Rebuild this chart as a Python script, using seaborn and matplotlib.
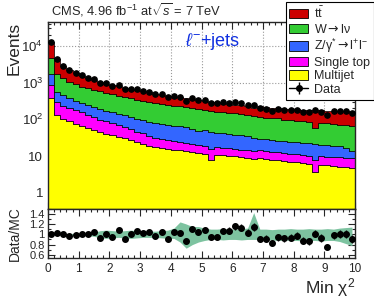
import numpy as np
import pandas as pd
import matplotlib
matplotlib.use("Agg")
import matplotlib.pyplot as plt
import seaborn as sns
from matplotlib.patches import Patch
from matplotlib.lines import Line2D
from matplotlib.ticker import MultipleLocator, LogLocator, FuncFormatter, NullFormatter, FixedLocator

# binning of the Min chi2 distribution (50 bins of 0.2)
edges = np.linspace(0, 10, 51)
centers = 0.5 * (edges[:-1] + edges[1:])

# expected events per bin
ttbar = [8300, 2656, 1582, 1185, 976, 782, 626, 537, 484, 426,
         383, 342, 322, 299, 282, 263, 256, 234, 220, 206,
         188, 170, 164, 150, 143, 138, 134, 131, 123, 116,
         109, 110, 106, 90, 109, 102, 97, 95, 98, 97,
         100, 98, 97, 120, 95, 95, 94, 94, 95, 97]
wjets = [3106, 1125, 856, 682, 587, 498, 457, 415, 384, 349,
         318, 303, 280, 255, 235, 224, 204, 191, 180, 167,
         164, 161, 151, 148, 144, 129, 122, 115, 112, 109,
         106, 104, 98, 89, 87, 84, 82, 80, 74, 72,
         67, 65, 63, 37.6, 60, 58, 56, 54, 54, 52]
zjets = [828, 265, 230, 178, 137, 126, 115, 101, 93, 84,
         79, 74, 66, 63, 56, 52, 50, 49, 46, 45,
         42, 40, 37.5, 35, 28, 32.5, 31, 26, 26, 24,
         23, 21.7, 20, 17.3, 15, 15, 14.6, 12.9, 12.9, 12.8,
         12.1, 12, 12, 12.9, 10.4, 10, 9.4, 9.1, 7.7, 5.2]
stop = [490, 172, 129, 117, 105, 88, 74, 65, 54, 49,
        42, 36, 31, 25.6, 22.6, 19.9, 16.4, 13.9, 13.1, 11.9,
        11.1, 10.0, 9.0, 8.5, 8.0, 7.8, 7.8, 7.0, 6.2, 6.0,
        5.9, 5.3, 5.3, 5.5, 5.6, 5.3, 5.1, 5.3, 4.8, 4.5,
        4.7, 4.2, 4.0, 4.1, 4.1, 3.9, 4.1, 4.0, 3.8, 3.9]
qcd = [376, 132, 103, 88, 75, 66, 58, 51, 45, 41,
       38, 34, 31, 27.5, 24, 21.4, 18.9, 17.2, 16.1, 15.6,
       14.7, 14.2, 13.8, 12.9, 12.1, 11.1, 7.8, 10.7, 10.4, 10.1,
       9.8, 9.5, 8.9, 8.3, 8.6, 8.1, 7.8, 7.6, 7.4, 6.9,
       6.7, 6.5, 6.1, 3.7, 5.7, 5.6, 5.4, 5.2, 5.1, 4.7]

# observed events per bin
data = [13100, 4437, 2900, 2183, 1852, 1583, 1343, 1229, 986, 950,
        808, 861, 657, 670, 663, 592, 567, 485, 499, 401,
        441, 403, 323, 394, 348, 347, 285, 276, 296, 284,
        292, 283, 246, 240, 205, 196, 171, 190, 182, 181,
        185, 162, 157, 181, 162, 130, 165, 167, 167, 147]

# relative MC uncertainty band (up / down) in the ratio panel
band_up = [0.01, 0.01, 0.015, 0.015, 0.02, 0.02, 0.03, 0.04, 0.07, 0.08,
           0.07, 0.06, 0.07, 0.08, 0.07, 0.06, 0.06, 0.06, 0.07, 0.08,
           0.12, 0.24, 0.2, 0.15, 0.15, 0.12, 0.1, 0.1, 0.11, 0.1,
           0.1, 0.11, 0.12, 0.42, 0.1, 0.1, 0.09, 0.1, 0.1, 0.11,
           0.1, 0.1, 0.11, 0.1, 0.1, 0.11, 0.1, 0.12, 0.13, 0.14]
band_dn = [0.01, 0.01, 0.015, 0.015, 0.02, 0.02, 0.03, 0.04, 0.07, 0.08,
           0.07, 0.06, 0.07, 0.08, 0.07, 0.06, 0.06, 0.06, 0.07, 0.08,
           0.08, 0.15, 0.27, 0.2, 0.15, 0.12, 0.1, 0.1, 0.11, 0.1,
           0.1, 0.11, 0.1, 0.1, 0.1, 0.1, 0.11, 0.12, 0.11, 0.12,
           0.12, 0.13, 0.12, 0.12, 0.13, 0.12, 0.12, 0.14, 0.18, 0.22]

names = ["ttbar", "W", "Z", "Single top", "Multijet"]
labels = [r"t$\bar{\rm t}$", r"W$\mathsf{\rightarrow}$lν",
          r"Z/γ$^{*}\mathsf{\rightarrow}$l$^{+}$l$^{-}$", "Single top", "Multijet"]
colors = ["#cc0000", "#33cc33", "#3366ff", "#ff00ff", "#ffff00"]
band_color = "#7dc3a0"

sns.set_style("ticks")
plt.rcParams["font.family"] = ["Liberation Sans", "DejaVu Sans"]
plt.rcParams["mathtext.fontset"] = "custom"
plt.rcParams["mathtext.rm"] = "Liberation Sans"
plt.rcParams["mathtext.it"] = "Liberation Sans:italic"
plt.rcParams["mathtext.bf"] = "Liberation Sans:bold"
plt.rcParams["mathtext.sf"] = "DejaVu Sans"

# long table for the stacked histogram
stack = pd.DataFrame({
    "minchi2": np.tile(centers, len(names)),
    "events": np.concatenate([ttbar, wjets, zjets, stop, qcd]),
    "process": np.repeat(names, len(centers)),
})

mc = np.array(ttbar) + np.array(wjets) + np.array(zjets) + np.array(stop) + np.array(qcd)
data = np.array(data, dtype=float)
ratio = data / mc
ratio_err = np.sqrt(data) / mc

fig = plt.figure(figsize=(3.74, 2.99), dpi=100)
ax = fig.add_axes([48 / 374, 1 - 208.5 / 299, 307 / 374, 186.5 / 299])
axr = fig.add_axes([48 / 374, 1 - 258 / 299, 307 / 374, 49.5 / 299])

# main panel
ax.set_yscale("log")
for gx in range(1, 10):
    ax.axvline(gx, ls=":", color="0.6", lw=0.8, zorder=0.5)
for gy in [1, 10, 100, 1000, 10000]:
    ax.axhline(gy, ls=":", color="0.6", lw=0.8, zorder=0.5)

sns.histplot(data=stack, x="minchi2", weights="events", hue="process",
             hue_order=names, palette=dict(zip(names, colors)),
             multiple="stack", binwidth=0.2, binrange=(0, 10), element="step",
             alpha=1, edgecolor="black", linewidth=0.5, legend=False, ax=ax,
             zorder=2)

ax.errorbar(centers, data, yerr=np.sqrt(data), fmt="o", color="black",
            ms=3.8, elinewidth=0.8, capsize=0, zorder=5)

ax.set_xlim(0, 10)
ax.set_ylim(0.373, 45000)
ax.set_xlabel("")
ax.set_ylabel("Events", fontsize=12.5, loc="top")
ax.yaxis.set_label_coords(-0.085, 1.0)

def log_label(v, pos):
    if v == 1:
        return "1"
    if v == 10:
        return "10"
    return r"$10^{%d}$" % round(np.log10(v))

ax.yaxis.set_major_locator(FixedLocator([1, 10, 100, 1000, 10000]))
ax.yaxis.set_major_formatter(FuncFormatter(log_label))
ax.yaxis.set_minor_locator(LogLocator(base=10, subs=np.arange(2, 10), numticks=100))
ax.yaxis.set_minor_formatter(NullFormatter())
ax.xaxis.set_major_locator(MultipleLocator(1))
ax.xaxis.set_minor_locator(MultipleLocator(0.2))
ax.tick_params(labelbottom=False)

# ratio panel
axr.fill_between(centers, 1 - np.array(band_dn), 1 + np.array(band_up),
                 color=band_color, lw=0, zorder=1)
axr.errorbar(centers, ratio, yerr=ratio_err, fmt="o", color="black",
             ms=4, elinewidth=1, capsize=0, zorder=3)
axr.set_xlim(0, 10)
axr.set_ylim(0.54, 1.5)
axr.yaxis.set_major_locator(FixedLocator([0.6, 0.8, 1.0, 1.2, 1.4]))
axr.yaxis.set_major_formatter(FuncFormatter(lambda v, p: f"{v:g}"))
axr.yaxis.set_minor_locator(MultipleLocator(0.1))
axr.xaxis.set_major_locator(MultipleLocator(1))
axr.xaxis.set_minor_locator(MultipleLocator(0.2))
axr.set_ylabel("Data/MC", fontsize=10)
axr.yaxis.set_label_coords(-0.085, 0.5)
axr.set_xlabel("Min χ$^{2}$", fontsize=12.5, loc="right")
axr.xaxis.set_label_coords(1.0, -0.37)

for a in (ax, axr):
    a.tick_params(which="both", direction="in", top=True, right=True, width=0.8)
    a.tick_params(which="major", length=5, labelsize=9.5)
    a.tick_params(which="minor", length=2.5)
    for s in a.spines.values():
        s.set_linewidth(1)
axr.tick_params(axis="y", which="major", labelsize=8, pad=2.5)
axr.tick_params(axis="x", which="major", labelsize=8.5)

fig.text(51 / 374, 1 - 10 / 299, r"CMS, 4.96 fb$^{-1}$ at$\sqrt{s}$ = 7 TeV",
         fontsize=9.3, va="center")
fig.text(185 / 374, 1 - 41 / 299, r"$\ell^{-}$+jets", color="#1030e0",
         fontsize=13, va="center")

handles = [Patch(facecolor=c, edgecolor="black", lw=0.6) for c in colors]
handles.append((Line2D([], [], color="black", lw=1),
                Line2D([], [], marker="|", color="black", ms=9, ls="none"),
                Line2D([], [], marker="o", color="black", ms=4, ls="none")))
leg = fig.legend(handles, labels + ["Data"], loc="upper right",
                 bbox_to_anchor=(1.0, 1 - 2 / 299), frameon=True, fancybox=False,
                 edgecolor="black", framealpha=1, fontsize=9, handlelength=1.5,
                 handleheight=0.75, labelspacing=0.12, borderpad=0.3,
                 handletextpad=0.5, borderaxespad=0)
leg.get_frame().set_linewidth(0.8)

fig.savefig("out.png", dpi=100)
